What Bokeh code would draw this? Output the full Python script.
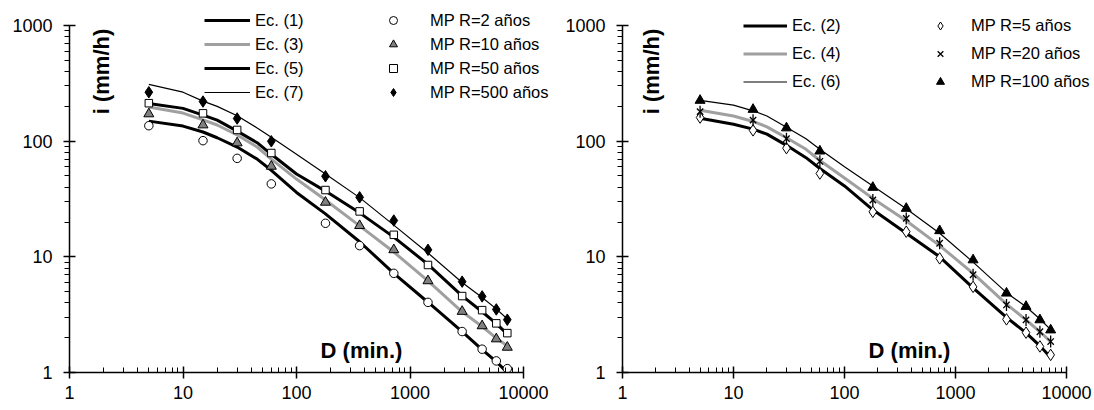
from bokeh.plotting import figure
from bokeh.models import Range1d, FixedTicker, PrintfTickFormatter, Legend, LegendItem, Label
from bokeh.layouts import row
from bokeh.embed import file_html
from bokeh.resources import INLINE
import math

# ---------------- data ----------------
durations = [5, 15, 30, 60, 180, 360, 720, 1440, 2880, 4320, 5760, 7200]
line_durations = [5, 10, 15, 20, 30, 45, 60, 100, 180, 360, 720, 1440, 2880, 4320, 5760, 7200]

# left panel: equations
ec1 = [149, 135, 120, 107, 89, 70, 56, 36, 23.5, 13.5, 7.2, 4.05, 2.26, 1.58, 1.24, 1.0]
ec3 = [197, 175, 153, 138, 113, 89, 70, 47, 31, 18.5, 11, 6.2, 3.35, 2.5, 1.98, 1.7]
ec5 = [212, 192, 168, 152, 122, 97, 77, 52, 37, 24, 14.8, 8.6, 4.6, 3.35, 2.65, 2.15]
ec7 = [310, 265, 222, 200, 166, 130, 108, 77, 52, 32.5, 18.8, 10.8, 6.0, 4.45, 3.55, 2.9]
# left panel: observed (MP)
mp_r2 = [136, 101, 71, 42.7, 19.5, 12.5, 7.2, 4.04, 2.26, 1.59, 1.26, 1.08]
mp_r10 = [172, 138, 96.5, 60.6, 29.6, 18.6, 11.5, 6.2, 3.37, 2.53, 1.95, 1.65]
mp_r50 = [213, 174, 125, 79, 37.8, 24.7, 15.5, 8.5, 4.58, 3.46, 2.66, 2.19]
mp_r500 = [265, 220, 157, 99.7, 49.7, 32.7, 20.6, 11.5, 6.1, 4.55, 3.51, 2.86]

# right panel: equations
ec2 = [158, 140, 127, 115, 92, 72, 58, 41, 25.5, 16, 10, 5.4, 3.0, 2.2, 1.7, 1.35]
ec4 = [185, 165, 148, 133, 107, 85, 68, 48, 32, 20.5, 12.5, 7.2, 3.9, 2.85, 2.25, 1.85]
ec6 = [225, 205, 183, 165, 132, 105, 85, 60, 41, 26, 16, 9.0, 4.9, 3.7, 2.9, 2.35]
# right panel: observed (MP)
mp_r5 = [160, 124, 87, 52.5, 24.5, 16.5, 9.7, 5.5, 2.88, 2.21, 1.68, 1.42]
mp_r20 = [180, 152, 105, 67, 31, 21.5, 13.1, 7.0, 3.84, 2.85, 2.25, 1.85]
mp_r100 = [225, 188, 130, 82, 39.8, 26.2, 16.8, 9.4, 4.85, 3.72, 2.85, 2.33]

x_ticks = [1, 10, 100, 1000, 10000]
y_ticks = [1, 10, 100, 1000]
x_label = "D (min.)"
y_label = "i (mm/h)"

FONT = "Liberation Sans"
GRAY = "#a0a0a0"
FIG_H = 405
FRAME_BOTTOM = 372          # page y of value 1
Y_DECADE = 115.67           # px per decade on y


def minor(ticks):
    out = []
    for t in ticks[:-1]:
        out += [t * k for k in range(2, 10)]
    return out


def make_fig(width, bl, x_decade):
    frame_w = width - bl
    x_end = 10 ** (frame_w / x_decade)
    y_end = 10 ** (FRAME_BOTTOM / Y_DECADE)
    p = figure(width=width, height=FIG_H, x_axis_type="log", y_axis_type="log",
               x_range=Range1d(1, x_end), y_range=Range1d(1, y_end),
               output_backend="svg", toolbar_location=None,
               min_border_left=bl, min_border_right=0,
               min_border_top=0, min_border_bottom=FIG_H - FRAME_BOTTOM)
    p.outline_line_color = None
    p.xgrid.visible = False
    p.ygrid.visible = False
    p.background_fill_color = "white"
    p.border_fill_color = "white"
    p.xaxis.ticker = FixedTicker(ticks=x_ticks, minor_ticks=minor(x_ticks))
    p.yaxis.ticker = FixedTicker(ticks=y_ticks, minor_ticks=minor(y_ticks))
    p.xaxis.bounds = (1, 10000)
    p.yaxis.bounds = (1, 1000)
    for ax in (p.xaxis, p.yaxis):
        ax.formatter = PrintfTickFormatter(format="%d")
        ax.axis_line_color = "black"
        ax.axis_line_width = 1.5
        ax.major_tick_line_color = "black"
        ax.major_tick_line_width = 1.5
        ax.minor_tick_line_color = "black"
        ax.minor_tick_line_width = 1
        ax.major_tick_in = 6
        ax.major_tick_out = 6
        ax.major_label_text_font = FONT
        ax.major_label_text_font_size = "18px"
        ax.major_label_text_color = "black"
    p.xaxis.minor_tick_in = 5
    p.xaxis.minor_tick_out = 0
    p.yaxis.minor_tick_in = 0
    p.yaxis.minor_tick_out = 5
    p.xaxis.major_label_standoff = 7
    p.yaxis.major_label_standoff = 11
    return p


def add_labels(p, ylab_x, xlab_x):
    p.add_layout(Label(x=ylab_x, y=FRAME_BOTTOM - 71, x_units="screen", y_units="screen", text=y_label,
                       angle=math.pi / 2, text_align="center", text_baseline="middle",
                       text_font=FONT, text_font_size="22px", text_font_style="bold",
                       text_color="black"))
    p.add_layout(Label(x=xlab_x, y=FRAME_BOTTOM - 350, x_units="screen", y_units="screen", text=x_label,
                       text_align="center", text_baseline="middle",
                       text_font=FONT, text_font_size="22px", text_font_style="bold",
                       text_color="black"))


def style_legend(lg, gw, standoff, lh, sp):
    lg.border_line_alpha = 0
    lg.background_fill_alpha = 0
    lg.padding = 0
    lg.margin = 0
    lg.spacing = sp
    lg.glyph_width = gw
    lg.glyph_height = lh
    lg.label_height = lh
    lg.label_standoff = standoff
    lg.label_text_font = FONT
    lg.label_text_font_size = "16.5px"
    lg.label_text_color = "black"
    lg.label_text_baseline = "middle"


# ---------------- left panel ----------------
p1 = make_fig(556, 69, 113.5)
l1 = p1.line(line_durations, ec1, line_color="black", line_width=3)
l3 = p1.line(line_durations, ec3, line_color=GRAY, line_width=3)
l5 = p1.line(line_durations, ec5, line_color="black", line_width=3)
l7 = p1.line(line_durations, ec7, line_color="black", line_width=1.2)
s2 = p1.scatter(durations, mp_r2, marker="circle", size=8.5, fill_color="white", line_color="black", line_width=1)
s10 = p1.scatter(durations, mp_r10, marker="triangle", size=10, fill_color="#808080", line_color="black", line_width=1)
s50 = p1.scatter(durations, mp_r50, marker="square", size=7.5, fill_color="white", line_color="black", line_width=1)
s500 = p1.scatter(durations, mp_r500, marker="diamond", size=11.5, fill_color="black", line_color="black", line_width=1)

# legend top at page y=9, 4 rows of 22 + 3 gaps of 2 = 94 -> bottom at 103
lg1 = Legend(items=[LegendItem(label="Ec. (1)", renderers=[l1]),
                    LegendItem(label="Ec. (3)", renderers=[l3]),
                    LegendItem(label="Ec. (5)", renderers=[l5]),
                    LegendItem(label="Ec. (7)", renderers=[l7])],
             location=(135, FRAME_BOTTOM - 103))
style_legend(lg1, 46, 5, 22, 2)
lg1b = Legend(items=[LegendItem(label="MP R=2 años", renderers=[s2]),
                     LegendItem(label="MP R=10 años", renderers=[s10]),
                     LegendItem(label="MP R=50 años", renderers=[s50]),
                     LegendItem(label="MP R=500 años", renderers=[s500])],
              location=(314, FRAME_BOTTOM - 103))
style_legend(lg1b, 20, 27, 22, 2)
p1.add_layout(lg1)
p1.add_layout(lg1b)
add_labels(p1, 32, 292)

# ---------------- right panel ----------------
p2 = make_fig(536, 66, 111)
l2 = p2.line(line_durations, ec2, line_color="black", line_width=3)
l4 = p2.line(line_durations, ec4, line_color=GRAY, line_width=3)
l6 = p2.line(line_durations, ec6, line_color="black", line_width=1.2)
s5 = p2.scatter(durations, mp_r5, marker="diamond", size=11.5, fill_color="white", line_color="black", line_width=1)
s20 = p2.scatter(durations, mp_r20, marker="x", size=9, line_color="black", line_width=1.3)
s20v = p2.scatter(durations, mp_r20, marker="dash", angle=math.pi / 2, size=12, line_color="black", line_width=1.3)
s100 = p2.scatter(durations, mp_r100, marker="triangle", size=10, fill_color="black", line_color="black", line_width=1)

# legend top at page y=12.5, 3 rows of 25 + 2 gaps of 3 = 81 -> bottom at 93.5
lg2 = Legend(items=[LegendItem(label="Ec. (2)", renderers=[l2]),
                    LegendItem(label="Ec. (4)", renderers=[l4]),
                    LegendItem(label="Ec. (6)", renderers=[l6])],
             location=(121, FRAME_BOTTOM - 94))
style_legend(lg2, 44, 5, 25, 3)
lg2b = Legend(items=[LegendItem(label="MP R=5 años", renderers=[s5]),
                     LegendItem(label="MP R=20 años", renderers=[s20]),
                     LegendItem(label="MP R=100 años", renderers=[s100])],
              location=(308, FRAME_BOTTOM - 94))
style_legend(lg2b, 20, 21, 25, 3)
p2.add_layout(lg2)
p2.add_layout(lg2b)
add_labels(p2, 29, 287)

layout = row(p1, p2)
open("out.html", "w").write(file_html(layout, INLINE))
